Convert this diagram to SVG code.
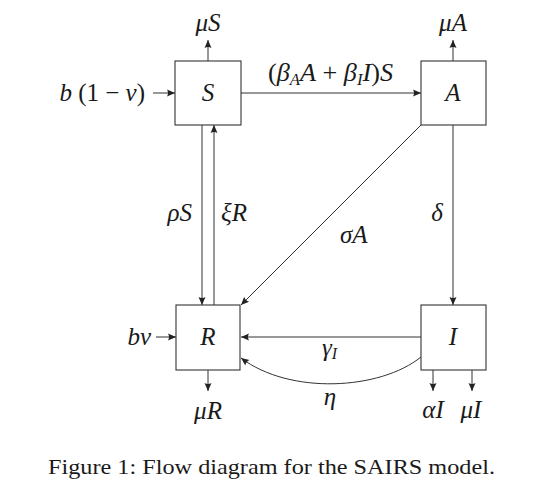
<svg xmlns="http://www.w3.org/2000/svg" width="540" height="504" viewBox="0 0 540 504">
<style>
.box{fill:#fff;stroke:#333;stroke-width:1.1}
.ln{fill:none;stroke:#333;stroke-width:1}
.ar{marker-end:url(#arr)}
text{font-family:"Liberation Serif","DejaVu Serif",serif;font-size:25px;fill:#1a1a1a}
.m{font-style:italic}
.u{font-style:normal}
.sub{font-size:16px;font-style:italic}
.cap{font-size:21px}
</style>
<defs>
<marker id="arr" markerUnits="userSpaceOnUse" markerWidth="12" markerHeight="10" refX="9" refY="4" orient="auto" viewBox="0 0 12 8">
<path d="M1,0.5 L9,4 L1,7.5 Q3,4 1,0.5 Z" fill="#222"/>
</marker>
</defs>
<rect width="540" height="504" fill="#fff"/>
<g id="connectors">
<line class="ln ar" x1="208" y1="61" x2="208" y2="40"/>
<line class="ln ar" x1="453" y1="61" x2="453" y2="40"/>
<line class="ln ar" x1="153" y1="93" x2="175" y2="93"/>
<line class="ln ar" x1="241" y1="93" x2="421" y2="93"/>
<line class="ln ar" x1="202" y1="125" x2="202" y2="305"/>
<line class="ln ar" x1="214" y1="305" x2="214" y2="125"/>
<line class="ln ar" x1="421" y1="125" x2="241" y2="305"/>
<line class="ln ar" x1="453" y1="125" x2="453" y2="305"/>
<line class="ln ar" x1="421" y1="337" x2="241" y2="337"/>
<line class="ln ar" x1="156" y1="337" x2="176" y2="337"/>
<line class="ln ar" x1="208" y1="370" x2="208" y2="391"/>
<line class="ln ar" x1="433" y1="370" x2="433" y2="391"/>
<line class="ln ar" x1="472" y1="370" x2="472" y2="391"/>
<path class="ln ar" d="M421,357 C380,390 290,395 241,358"/>
</g>
<g id="node-S"><rect class="box" x="175" y="61" width="66" height="64"/><text class="m" x="208" y="101" text-anchor="middle">S</text></g>
<g id="node-A"><rect class="box" x="421" y="61" width="65" height="64"/><text class="m" x="453" y="101" text-anchor="middle">A</text></g>
<g id="node-R"><rect class="box" x="176" y="305" width="64" height="65"/><text class="m" x="208" y="345" text-anchor="middle">R</text></g>
<g id="node-I"><rect class="box" x="421" y="305" width="65" height="65"/><text class="m" x="453" y="345" text-anchor="middle">I</text></g>
<g id="labels">
<text class="m" x="208" y="31" text-anchor="middle">μS</text>
<text class="m" x="453" y="31" text-anchor="middle">μA</text>
<text x="145" y="101" text-anchor="end"><tspan class="m">b</tspan><tspan class="u"> (1 − </tspan><tspan class="m">ν</tspan><tspan class="u">)</tspan></text>
<text x="268" y="81" textLength="125" lengthAdjust="spacingAndGlyphs"><tspan class="u">(</tspan><tspan class="m">β</tspan><tspan class="sub" dy="4">A</tspan><tspan class="m" dy="-4">A</tspan><tspan class="u"> + </tspan><tspan class="m">β</tspan><tspan class="sub" dy="4">I</tspan><tspan class="m" dy="-4">I</tspan><tspan class="u">)</tspan><tspan class="m">S</tspan></text>
<text class="m" x="192" y="221" text-anchor="end">ρS</text>
<text class="m" x="221" y="221">ξR</text>
<text class="m" x="340" y="243">σA</text>
<text class="m" x="437" y="221" text-anchor="middle">δ</text>
<text class="m" x="151" y="345" text-anchor="end">bν</text>
<text x="322" y="356"><tspan class="m">γ</tspan><tspan class="sub" dy="3">I</tspan></text>
<text class="m" x="330" y="405" text-anchor="middle">η</text>
<text class="m" x="208" y="419" text-anchor="middle">μR</text>
<text class="m" x="433" y="418" text-anchor="middle">αI</text>
<text class="m" x="471" y="418" text-anchor="middle">μI</text>
<text class="cap" x="48" y="474" textLength="447" lengthAdjust="spacingAndGlyphs">Figure 1: Flow diagram for the SAIRS model.</text>
</g>
</svg>
